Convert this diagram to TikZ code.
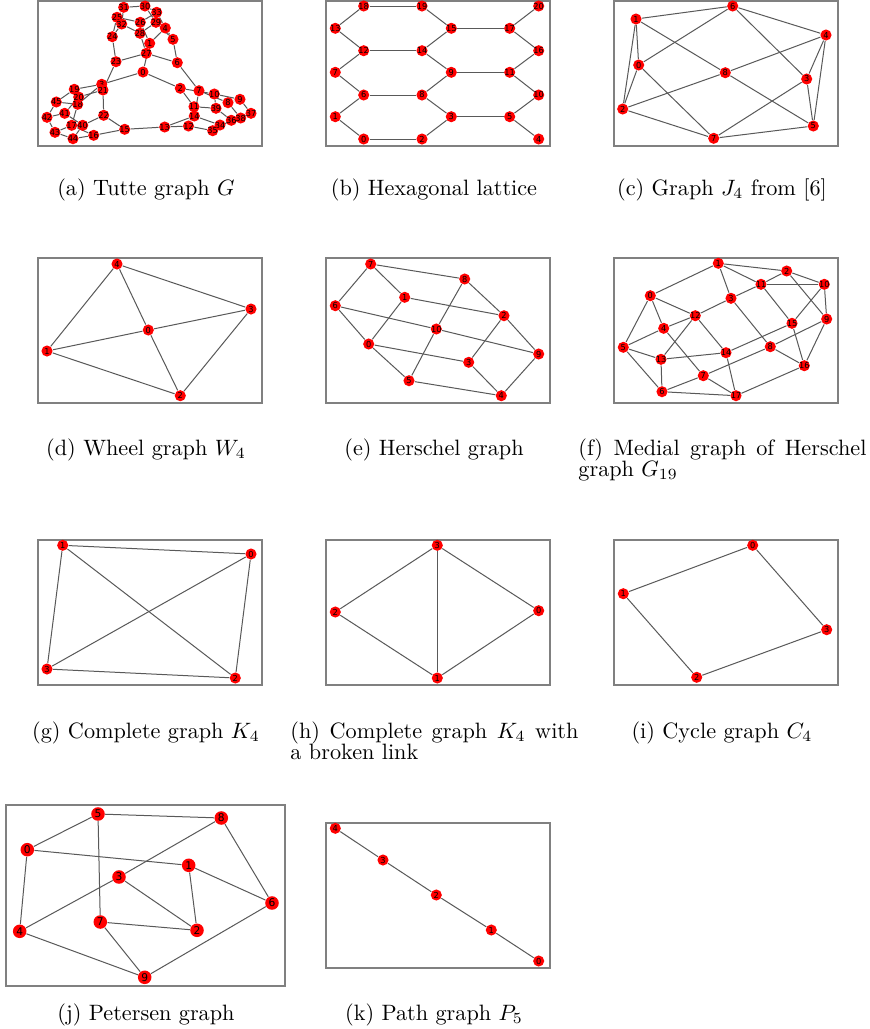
\documentclass[tikz,border=0pt]{standalone}
\usepackage{fontspec}
\newfontfamily\dejavu{DejaVu Sans}
\pgfdeclarelayer{bg}
\pgfdeclarelayer{edges}
\pgfsetlayers{bg,edges,main}
\tikzset{
  v/.style={circle, fill=red, inner sep=0pt, minimum size=5pt, font=\dejavu\fontsize{3.7}{4}\selectfont},
  vb/.style={v, minimum size=6.1pt, font=\dejavu\fontsize{4.8}{5}\selectfont},
  e/.style={draw=black!65, line width=0.45pt},
  frame/.style={draw=black!50, line width=0.6pt},
  captxt/.style={font=\fontsize{10}{9.5}\selectfont, inner sep=0pt, anchor=base},
  captxtw/.style={captxt, anchor=north west, text width=129.6pt, align=justify},
}
\newcommand\lbl[1]{\makebox[0pt]{#1}}
\begin{document}
\begin{tikzpicture}[x=0.45pt,y=-0.45pt]
\useasboundingbox (0,0) rectangle (870,1029);
\begin{pgfonlayer}{bg}
\fill[white] (0,0) rectangle (870,1029);
\end{pgfonlayer}
% frames
\draw[frame] (38,1) rectangle (262,146);
\draw[frame] (326,1) rectangle (550,146);
\draw[frame] (614,1) rectangle (838,146);
\draw[frame] (38,258) rectangle (262,403);
\draw[frame] (326,258) rectangle (550,403);
\draw[frame] (614,258) rectangle (838,403);
\draw[frame] (38,540) rectangle (262,685);
\draw[frame] (326,540) rectangle (550,685);
\draw[frame] (614,540) rectangle (838,685);
\draw[frame] (6,805) rectangle (285,986);
\draw[frame] (326,823) rectangle (550,968);
% (a) Tutte graph
\foreach \n/\x/\y in {0/143/72, 1/149.7/43.3, 2/180.3/88.3, 3/101.7/84.3, 4/165.3/28, 5/173/39.3, 6/177.3/62.7, 7/199/90.7, 8/228/102.7, 9/240/99.3, 10/214.3/94, 11/194/106.7, 12/188.5/126, 13/164.7/127, 14/194.3/116, 15/124.7/129.3, 16/93.7/135.3, 17/71.7/125.3, 18/77.7/104.3, 19/74.3/89.3, 20/78.7/97, 21/103/90, 22/103.7/115.3, 23/116/61.7, 24/112.3/36.7, 25/117/17.3, 26/140.3/22.3, 27/146.3/53.3, 28/140/33.3, 29/156/22.3, 30/145/6, 31/123.7/7.3, 32/121.7/24, 33/156.7/12.3, 34/220/125, 35/212.7/130.7, 36/231.3/120.3, 37/251/113.3, 38/240.7/118, 39/216/108.3, 40/82.7/125.3, 41/64.7/113.3, 42/47/117.3, 43/55/132.3, 44/73/138.7, 45/56.3/102}
  \node[v] (a\n) at (\x,\y) {\lbl{\n}};
\begin{pgfonlayer}{edges}
\foreach \s/\t in {0/1, 0/2, 0/3, 1/4, 1/26, 2/10, 2/11, 3/18, 3/19, 4/5, 4/33, 5/6, 5/29, 6/7, 6/27, 7/8, 7/14, 8/9, 8/38, 9/10, 9/37, 10/39, 11/12, 11/39, 12/13, 12/35, 13/14, 14/34, 13/15, 15/16, 15/22, 16/17, 16/44, 17/18, 17/43, 18/45, 19/20, 19/45, 20/21, 20/41, 21/22, 21/23, 22/40, 23/24, 23/27, 24/25, 24/32, 25/26, 25/31, 26/33, 27/28, 28/29, 28/32, 29/30, 30/31, 30/33, 31/32, 34/35, 34/38, 35/36, 36/37, 36/39, 37/38, 40/41, 40/44, 41/42, 42/43, 42/45, 43/44}
  \draw[e] (a\s) -- (a\t);
\end{pgfonlayer}
% (b) Hexagonal lattice
\foreach \n/\x/\y in {18/363.7/6, 19/422/6, 20/538.7/6, 13/335.3/28.3, 15/451.3/28.3, 17/509.7/28.3, 12/363.7/50.7, 14/422/50.7, 16/538.7/50.7, 7/335.3/72.3, 9/451.3/72.3, 11/509.7/72.3, 6/363.7/95, 8/422/95, 10/538.7/95, 1/335.3/116.7, 3/451.3/116.7, 5/509.7/116.7, 0/363.7/139, 2/422/139, 4/538.7/139}
  \node[v] (b\n) at (\x,\y) {\lbl{\n}};
\begin{pgfonlayer}{edges}
\foreach \s/\t in {0/1, 0/2, 1/6, 2/3, 3/5, 3/8, 5/4, 5/10, 6/7, 6/8, 7/12, 8/9, 9/11, 9/14, 10/11, 11/16, 12/13, 12/14, 13/18, 14/15, 15/17, 15/19, 16/17, 17/20, 18/19}
  \draw[e] (b\s) -- (b\t);
\end{pgfonlayer}
% (c) Graph J4
\foreach \n/\x/\y in {6/732.7/6, 1/636/19, 4/826/35, 0/638.7/65, 8/725.3/72.7, 3/806.7/79, 2/622.7/109, 5/813.3/126, 7/713.7/138.3}
  \node[v] (c\n) at (\x,\y) {\lbl{\n}};
\begin{pgfonlayer}{edges}
\foreach \s/\t in {1/6, 1/0, 1/2, 1/8, 0/2, 0/6, 0/7, 2/8, 2/7, 6/4, 6/3, 4/8, 4/3, 4/5, 3/5, 3/7, 8/5, 7/5}
  \draw[e] (c\s) -- (c\t);
\end{pgfonlayer}
% (d) Wheel graph
\foreach \n/\x/\y in {4/117/264, 3/251/309, 0/148.3/330, 1/47/351, 2/180.3/395.7}
  \node[v] (d\n) at (\x,\y) {\lbl{\n}};
\begin{pgfonlayer}{edges}
\foreach \s/\t in {4/1, 4/0, 4/3, 0/1, 0/3, 0/2, 1/2, 3/2}
  \draw[e] (d\s) -- (d\t);
\end{pgfonlayer}
% (e) Herschel graph
\foreach \n/\x/\y in {7/370.7/264, 8/464.7/279, 1/404.7/297.3, 6/335.3/305.7, 2/504/315.7, 10/436.3/329, 0/368.7/344, 9/538.7/354, 3/468.7/362.3, 5/409/380.7, 4/501.3/395.7}
  \node[v] (e\n) at (\x,\y) {\lbl{\n}};
\begin{pgfonlayer}{edges}
\foreach \s/\t in {7/8, 7/1, 7/6, 8/10, 8/2, 1/0, 1/2, 6/10, 6/0, 10/9, 10/5, 0/3, 0/5, 2/3, 2/9, 3/4, 5/4, 9/4}
  \draw[e] (e\s) -- (e\t);
\end{pgfonlayer}
% (f) Medial graph of Herschel graph
\foreach \n/\x/\y in {1/718.3/263.3, 2/786.7/271, 11/761/284.3, 10/824.3/284.3, 0/650.3/295.7, 3/731/298.3, 12/695.3/315.7, 9/826.7/319, 15/792/323.3, 4/663.7/328.3, 5/623.3/347.3, 8/770.3/346.7, 14/726/352.7, 13/661/359.3, 16/804.3/365.7, 7/703.3/375.7, 6/662/391.7, 17/736/395.7}
  \node[v] (f\n) at (\x,\y) {\lbl{\n}};
\begin{pgfonlayer}{edges}
\foreach \s/\t in {1/0, 1/2, 1/11, 1/3, 2/11, 2/10, 2/9, 11/10, 11/15, 11/3, 3/12, 3/8, 0/12, 0/4, 0/5, 4/12, 4/5, 4/7, 5/13, 5/6, 13/12, 13/6, 13/14, 6/7, 6/17, 7/17, 7/8, 17/14, 17/16, 14/12, 14/15, 8/16, 8/9, 16/15, 16/9, 15/10, 10/9}
  \draw[e] (f\s) -- (f\t);
\end{pgfonlayer}
% (g) Complete graph K4
\foreach \n/\x/\y in {1/62.7/545.3, 0/251/554, 3/47/669, 2/235.3/678}
  \node[v] (g\n) at (\x,\y) {\lbl{\n}};
\begin{pgfonlayer}{edges}
\foreach \s/\t in {1/0, 1/3, 1/2, 0/3, 0/2, 3/2}
  \draw[e] (g\s) -- (g\t);
\end{pgfonlayer}
% (h) K4 with a broken link
\foreach \n/\x/\y in {3/437.3/545.3, 2/335.3/612, 0/538.7/610.7, 1/437.3/678}
  \node[v] (h\n) at (\x,\y) {\lbl{\n}};
\begin{pgfonlayer}{edges}
\foreach \s/\t in {3/2, 3/0, 3/1, 2/1, 0/1}
  \draw[e] (h\s) -- (h\t);
\end{pgfonlayer}
% (i) Cycle graph C4
\foreach \n/\x/\y in {0/752.7/545.3, 1/623.3/593.7, 3/826.7/629.7, 2/696.7/677.3}
  \node[v] (i\n) at (\x,\y) {\lbl{\n}};
\begin{pgfonlayer}{edges}
\foreach \s/\t in {0/1, 0/3, 1/2, 2/3}
  \draw[e] (i\s) -- (i\t);
\end{pgfonlayer}
% (j) Petersen graph
\foreach \n/\x/\y in {5/98/814, 8/221.3/818, 0/27.3/849.7, 1/188.7/865.3, 3/119/877, 6/272/903, 7/100.3/922, 2/197/930.3, 4/19.7/931.3, 9/144.7/977.3}
  \node[vb] (j\n) at (\x,\y) {\lbl{\n}};
\begin{pgfonlayer}{edges}
\foreach \s/\t in {5/0, 5/8, 5/7, 0/1, 0/4, 8/3, 8/6, 1/2, 1/6, 3/4, 3/2, 7/2, 7/9, 4/9, 9/6}
  \draw[e] (j\s) -- (j\t);
\end{pgfonlayer}
% (k) Path graph P5
\foreach \n/\x/\y in {4/335.3/828.3, 3/383/860, 2/436.3/895, 1/491.3/930, 0/538.7/961}
  \node[v] (k\n) at (\x,\y) {\lbl{\n}};
\begin{pgfonlayer}{edges}
\foreach \s/\t in {4/3, 3/2, 2/1, 1/0}
  \draw[e] (k\s) -- (k\t);
\end{pgfonlayer}
% captions
\node[captxt] (capa) at (146,195) {(a) Tutte graph $G$};
\node[captxt] (capb) at (434,195) {(b) Hexagonal lattice};
\node[captxt] (capc) at (722,195) {(c) Graph $J_4$ from [6]};
\node[captxt] (capd) at (146,455) {(d) Wheel graph $W_4$};
\node[captxt] (cape) at (434,455) {(e) Herschel graph};
\node[captxtw] (capf) at (578,438) {(f) Medial graph of Herschel graph $G_{19}$};
\node[captxt] (capg) at (146,738) {(g) Complete graph $K_4$};
\node[captxtw] (caph) at (290,721) {(h) Complete graph $K_4$ with a broken link};
\node[captxt] (capi) at (722,738) {(i) Cycle graph $C_4$};
\node[captxt] (capj) at (146,1020) {(j) Petersen graph};
\node[captxt] (capk) at (434,1020) {(k) Path graph $P_5$};
\end{tikzpicture}
\end{document}
